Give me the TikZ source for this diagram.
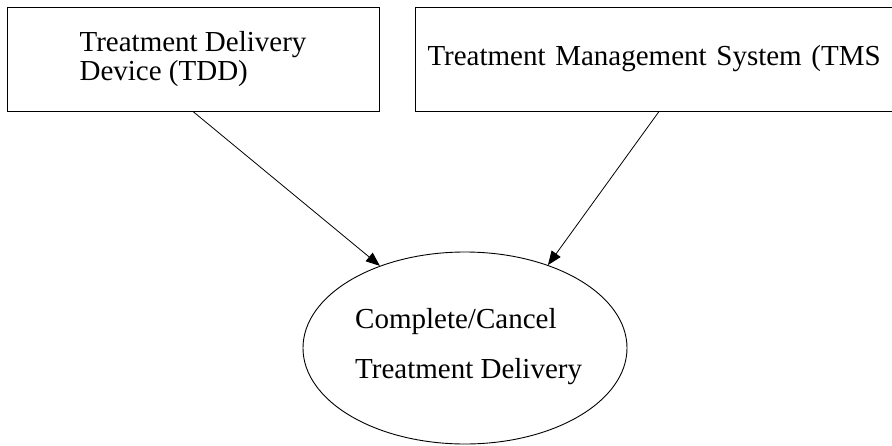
\documentclass[tikz,border=0pt]{standalone}
\usepackage{fontspec}
\setmainfont{Liberation Serif}
\usetikzlibrary{arrows.meta,shapes.geometric,calc}
\begin{document}
\begin{tikzpicture}[x=1pt,y=-1pt,
  boxnode/.style={draw=black,line width=1pt,rectangle,inner sep=0pt,
    minimum height=104pt,font=\fontsize{29}{29}\selectfont},
  ovalnode/.style={draw=black,line width=0.9pt,ellipse,inner sep=0pt,
    minimum width=324pt,minimum height=192pt},
  ovaltext/.style={inner sep=0pt,align=left,font=\fontsize{29}{50}\selectfont},
  arr/.style={draw=black,line width=0.8pt,-{Triangle[length=14pt,width=11pt]}}]
\useasboundingbox (0,0) rectangle (892,445);
\clip (0,0) rectangle (892,445);
\node[boxnode,minimum width=372pt,align=left] (tdd) at (193,59)
  {Treatment Delivery\\Device (TDD)};
\node[boxnode,anchor=west,text width=480pt,inner xsep=12pt,align=left] (tms) at (415,59)
  {Treatment Management System (TMS};
\node[ovalnode] (cc) at (465,348) {};
\node[ovaltext,anchor=base west] (cctext) at (355,378)
  {Complete/Cancel\\Treatment Delivery};
\draw[arr] (tdd.south) -- (cc.136);
\draw[arr] ($(tms.south west)+(244,0)$) -- (cc.45);
\end{tikzpicture}
\end{document}
